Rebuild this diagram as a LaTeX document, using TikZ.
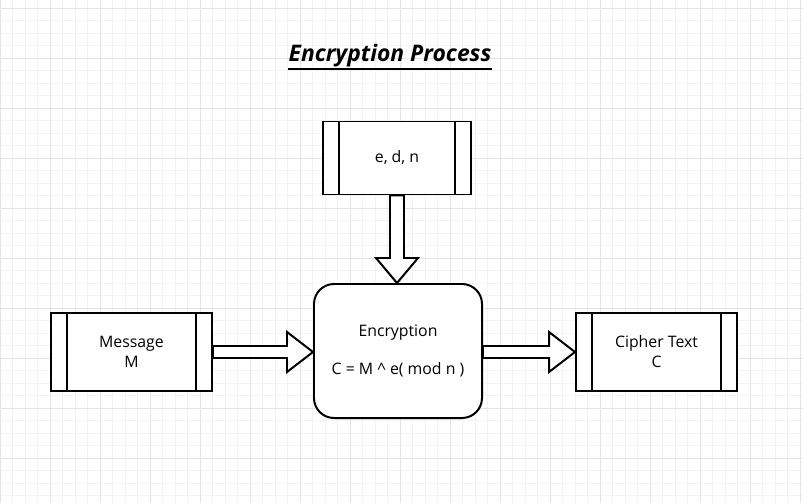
\documentclass[tikz,border=0pt]{standalone}
\usepackage{fontspec}
\setmainfont{Open Sans}
\usepackage{tikz}
\usetikzlibrary{calc}

\definecolor{gridminor}{HTML}{F3F3F3}
\definecolor{gridmajor}{HTML}{E4E4E4}

\begin{document}
\begin{tikzpicture}[
    x=0.03cm, y=-0.03cm,
    line width=1.7pt,
    procbox/.style={draw, fill=white, minimum width=4.83cm, minimum height=2.34cm,
      align=center, font=\fontsize{13.5}{17}\selectfont,
      path picture={
        \draw[line width=1.7pt] ([xshift=0.47cm]path picture bounding box.north west)
          -- ([xshift=0.47cm]path picture bounding box.south west);
        \draw[line width=1.7pt] ([xshift=-0.47cm]path picture bounding box.north east)
          -- ([xshift=-0.47cm]path picture bounding box.south east);
      }},
    encbox/.style={draw, fill=white, rounded corners=0.6cm, minimum width=5.04cm,
      minimum height=4.02cm, align=center, font=\fontsize{13.5}{17}\selectfont},
    blockarr/.style={draw, fill=white, line width=1.7pt, line join=miter}
  ]
  % background grid
  \useasboundingbox (0,0) rectangle (803,503);
  \fill[white] (0,0) rectangle (803,503);
  \foreach \x in {0,12.5,...,803} \draw[gridminor, line width=0.7pt] (\x,0) -- (\x,503);
  \foreach \y in {8,20.5,...,503} \draw[gridminor, line width=0.7pt] (0,\y) -- (803,\y);
  \foreach \x in {0,50,...,800} \draw[gridmajor, line width=0.7pt] (\x,0) -- (\x,503);
  \foreach \y in {8,58,...,503} \draw[gridmajor, line width=0.7pt] (0,\y) -- (803,\y);

  % title
  \node[inner sep=0, font=\fontsize{19.5}{22}\selectfont\bfseries\itshape] (title) at (390,56) {Encryption Process};
  \draw[line width=1.7pt] ($(title.base west)+(0,7)$) -- ($(title.base east)+(0,7)$);

  % boxes
  \node[procbox, minimum width=4.44cm, minimum height=2.19cm] (keys) at (397,158) {e, d, n};
  \node[encbox] (enc) at (398,351) {Encryption\\[0.55cm]C = M \^{} e( mod n )};
  \node[procbox] (msg) at (131.5,352) {Message\\M};
  \node[procbox] (cip) at (656.5,352) {Cipher Text\\C};

  % block arrows
  \draw[blockarr] ($(keys.south)+(-7,0)$) -- ($(keys.south |- enc.north)+(-7,-25)$)
    -- ++(-14,0) -- (keys.south |- enc.north) -- ++(21,-25) -- ++(-14,0)
    -- ($(keys.south)+(7,0)$) -- cycle;
  \draw[blockarr] ($(msg.east)+(0,-6)$) -- ($(msg.east -| enc.west)+(-26,-6)$)
    -- ++(0,-14) -- (msg.east -| enc.west) -- ++(-26,20) -- ++(0,-14)
    -- ($(msg.east)+(0,6)$) -- cycle;
  \draw[blockarr] ($(enc.east |- cip.west)+(0,-6)$) -- ($(cip.west)+(-26,-6)$)
    -- ++(0,-14) -- (cip.west) -- ++(-26,20) -- ++(0,-14)
    -- ($(enc.east |- cip.west)+(0,6)$) -- cycle;
\end{tikzpicture}
\end{document}
